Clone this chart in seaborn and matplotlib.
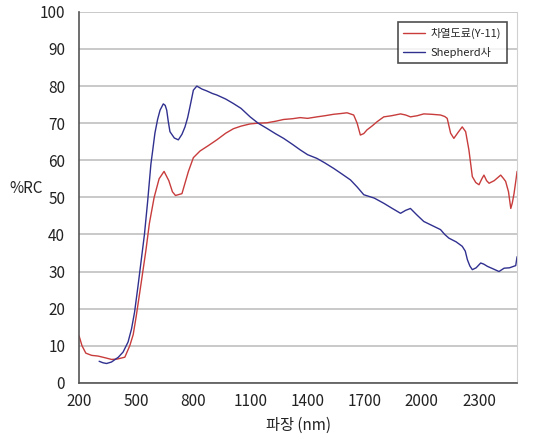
import matplotlib
matplotlib.use('Agg')
import matplotlib.pyplot as plt
import seaborn as sns
import pandas as pd

# Values
red_x = [200, 215, 235, 265, 300, 340, 370, 400, 440, 466, 484, 500, 526, 551, 569,
         594, 620, 646, 671, 690, 706, 740, 774, 800, 835, 880, 923, 970, 1010, 1050,
         1098, 1140, 1186, 1230, 1274, 1320, 1361, 1400, 1449, 1490, 1537, 1575, 1607,
         1642, 1660, 1677, 1695, 1712, 1740, 1765, 1800, 1840, 1888, 1915, 1940, 1975,
         2010, 2050, 2098, 2120, 2133, 2151, 2168, 2190, 2212, 2230, 2247, 2265, 2283,
         2300, 2315, 2326, 2340, 2353, 2380, 2414, 2430, 2440, 2455, 2467, 2475, 2484,
         2495, 2500]
red_y = [12.6, 10.0, 8.0, 7.4, 7.2, 6.7, 6.3, 6.4, 6.9, 10.0, 13.0, 18.0, 27.0, 35.8, 43.0,
         50.0, 55.0, 57.0, 54.5, 51.5, 50.5, 51.0, 57.0, 60.7, 62.5, 64.0, 65.5, 67.3, 68.5, 69.2,
         69.8, 70.0, 70.1, 70.5, 71.0, 71.2, 71.5, 71.3, 71.7, 72.0, 72.4, 72.6, 72.8,
         72.2, 70.0, 66.8, 67.2, 68.2, 69.3, 70.4, 71.7, 72.0, 72.5, 72.2, 71.7, 72.0,
         72.5, 72.4, 72.2, 71.8, 71.3, 67.3, 65.9, 67.5, 69.0, 67.7, 62.8, 55.6, 54.0,
         53.4, 55.0, 56.0, 54.5, 53.8, 54.5, 56.0, 55.0, 54.3, 51.5, 47.0, 48.5, 51.0,
         55.0, 57.0]

blue_x = [305, 325, 344, 370, 406, 431, 457, 475, 491, 509, 526, 543, 560,
          577, 586, 598, 612, 625, 642, 652, 660, 668, 677, 700, 721, 740, 756, 770,
          782, 800, 818, 845, 870, 900, 923, 970, 1010, 1050, 1098, 1140, 1186, 1230,
          1274, 1320, 1361, 1400, 1449, 1490, 1537, 1580, 1625, 1660, 1695, 1750, 1800,
          1845, 1888, 1915, 1940, 1975, 2010, 2050, 2098, 2120, 2142, 2180, 2212, 2228,
          2239, 2252, 2265, 2285, 2309, 2325, 2344, 2375, 2405, 2420, 2432, 2460, 2493, 2500]
blue_y = [5.8, 5.4, 5.2, 5.6, 6.9, 8.3, 11.0, 14.5, 19.0, 26.0, 33.0, 40.0, 49.0,
          59.0, 62.5, 67.3, 71.0, 73.5, 75.2, 74.8, 73.5, 70.5, 67.7, 66.0, 65.5, 67.0, 69.0, 71.5,
          74.4, 78.9, 80.0, 79.2, 78.7, 78.0, 77.6, 76.5, 75.3, 74.0, 71.7, 70.0, 68.6, 67.2,
          65.9, 64.3, 62.8, 61.5, 60.5, 59.3, 57.8, 56.3, 54.7, 52.8, 50.7, 49.8, 48.4,
          47.0, 45.7, 46.5, 47.0, 45.2, 43.5, 42.5, 41.3, 40.0, 39.0, 38.0, 36.8, 35.5,
          33.2, 31.5, 30.5, 31.0, 32.3, 32.0, 31.4, 30.7, 30.0, 30.5, 30.9, 31.0, 31.6, 34.0]

series_names = ['차열도료(Y-11)', 'Shepherd사']
series_colors = ['#c83c3c', '#303090']
x_ticks = [200, 500, 800, 1100, 1400, 1700, 2000, 2300]
y_ticks = list(range(0, 101, 10))

df = pd.concat([
    pd.DataFrame({'wl': red_x, 'rc': red_y, 'series': series_names[0]}),
    pd.DataFrame({'wl': blue_x, 'rc': blue_y, 'series': series_names[1]}),
])

sns.set_style('white')
plt.rcParams['font.family'] = ['Noto Sans CJK KR', 'DejaVu Sans']

fig, ax = plt.subplots(figsize=(5.42, 4.41), dpi=100)
fig.subplots_adjust(left=0.146, right=0.954, top=0.973, bottom=0.132)

sns.lineplot(data=df, x='wl', y='rc', hue='series', palette=series_colors,
             linewidth=1.0, sort=False, ax=ax)

ax.set_xlim(200, 2500)
ax.set_ylim(0, 100)
ax.set_xticks(x_ticks)
ax.set_yticks(y_ticks)
ax.yaxis.grid(True, color='#c0c0c0', linewidth=1.2)
ax.set_axisbelow(True)
ax.tick_params(axis='both', labelsize=11, colors='#222222')
ax.tick_params(axis='x', length=3, width=1, color='#555555', direction='in', pad=7)
ax.tick_params(axis='y', length=3, width=1, color='#555555', direction='in', pad=10)

for side in ['left', 'bottom']:
    ax.spines[side].set_color('#555555')
    ax.spines[side].set_linewidth(1.2)
ax.spines['top'].set_visible(False)
ax.spines['right'].set_color('#d0d0d0')

ax.set_xlabel('파장 (nm)', fontsize=11, color='#222222', labelpad=5)
ax.set_ylabel('%RC', fontsize=11, rotation=0, color='#222222')
ax.yaxis.set_label_coords(-0.12, 0.5)

leg = ax.legend(loc='upper right', bbox_to_anchor=(0.977, 0.973), fontsize=8,
                frameon=True, fancybox=False, handlelength=2.0, borderpad=0.5,
                labelspacing=0.75, handletextpad=0.5, borderaxespad=0, title=None)
leg.get_frame().set_edgecolor('#222222')
leg.get_frame().set_linewidth(1.2)

fig.savefig('out.png', dpi=100)
